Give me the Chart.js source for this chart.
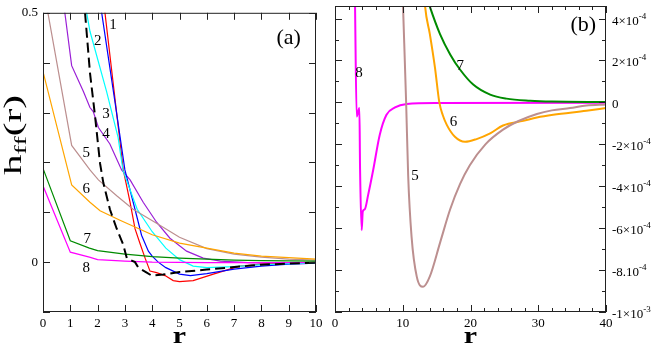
<!DOCTYPE html>
<html>
<head>
<meta charset="utf-8">
<script src="https://cdn.jsdelivr.net/npm/chart.js@4.4.0/dist/chart.umd.min.js"></script>
<style>
html, body { margin: 0; padding: 0; background: #fff; }
#wrap { position: relative; width: 654px; height: 345px; }
#chartA { position: absolute; left: 0; top: 0; width: 330px; height: 345px; }
#chartB { position: absolute; left: 320px; top: 0; width: 334px; height: 345px; }
</style>
</head>
<body>
<div id="wrap">
  <canvas id="chartA" width="330" height="345"></canvas>
  <canvas id="chartB" width="334" height="345"></canvas>
</div>
<script>
// Panel (a): h_ff(r) for curves 1..8, plus the dashed black reference
const rA1 = [2.2, 2.27, 2.6, 2.94, 3.19, 3.37, 3.55, 3.74, 3.92, 4.16, 4.47, 4.77, 5.0, 5.5, 6.24, 7.2, 8, 9, 10];
const hA1 = [0.53, 0.5, 0.345, 0.185, 0.12, 0.067, 0.038, 0.008, -0.018, -0.021, -0.027, -0.037, -0.039, -0.037, -0.024, -0.008, -0.004, -0.002, -0.001];
const rA2 = [2.05, 2.15, 2.64, 3.0, 3.43, 3.61, 3.86, 4.0, 4.22, 4.5, 5.0, 5.4, 6.0, 7.0, 8.0, 9.0, 10];
const hA2 = [0.54, 0.5, 0.32, 0.185, 0.093, 0.054, 0.022, 0.012, 0.0, -0.011, -0.024, -0.027, -0.023, -0.014, -0.008, -0.004, -0.002];
const rA3 = [1.5, 1.6, 1.72, 2.33, 2.75, 2.93, 3.45, 4.0, 4.5, 5.0, 5.5, 6.0, 7.0, 8.0, 9.0, 10];
const hA3 = [0.53, 0.5, 0.463, 0.342, 0.25, 0.184, 0.106, 0.061, 0.028, 0.005, -0.008, -0.011, -0.009, -0.005, -0.003, -0.002];
const rA4 = [0.6, 0.8, 1.05, 1.48, 1.72, 1.84, 2.03, 2.45, 2.88, 3.19, 3.67, 4.16, 4.65, 5.26, 5.87, 6.5, 7.5, 8.5, 10];
const hA4 = [0.63, 0.5, 0.394, 0.342, 0.31, 0.302, 0.27, 0.237, 0.185, 0.165, 0.12, 0.08, 0.048, 0.022, 0.008, 0.002, -0.001, -0.002, -0.002];
const rA5 = [0, 0.18, 1.05, 1.72, 2.03, 2.7, 3.3, 4.16, 5.0, 6.0, 7.0, 8.0, 9.0, 10];
const hA5 = [0.56, 0.5, 0.234, 0.185, 0.165, 0.133, 0.106, 0.078, 0.05, 0.027, 0.016, 0.01, 0.006, 0.004];
const rA6 = [0, 1.05, 1.72, 2.09, 2.82, 4.0, 5.0, 6.0, 7.0, 8.0, 9.0, 10];
const hA6 = [0.382, 0.155, 0.12, 0.103, 0.084, 0.055, 0.038, 0.028, 0.018, 0.012, 0.009, 0.006];
const rA7 = [0, 1.0, 1.7, 2.0, 3.0, 4.0, 5.0, 6.0, 7.0, 8.0, 10];
const hA7 = [0.188, 0.043, 0.028, 0.023, 0.016, 0.011, 0.008, 0.006, 0.004, 0.003, 0.002];
const rA8 = [0, 1.0, 1.7, 2.0, 3.0, 4.0, 6.0, 10];
const hA8 = [0.153, 0.02, 0.01, 0.005, 0.002, 0.0, -0.001, -0.001];
const rA0 = [1.5, 1.54, 1.72, 1.9, 2.09, 2.21, 2.45, 2.7, 2.94, 3.07, 3.37, 3.49, 3.8, 3.98, 4.4, 5, 6, 7, 8, 9, 10];
const hA0 = [0.53, 0.5, 0.38, 0.296, 0.198, 0.159, 0.106, 0.067, 0.035, 0.008, 0.0, -0.011, -0.021, -0.027, -0.025, -0.02, -0.015, -0.01, -0.005, -0.003, -0.001];

// Panel (b): long-range tails of curves 5..8
const rB5 = [10.0, 10.08, 10.5, 10.8, 11.3, 12.06, 13.0, 14.0, 15.5, 17.0, 18.45, 19.9, 22.2, 24.8, 27.0, 29.8, 32.0, 34.7, 37.1, 40];
const hB5 = [5.0e-4, 4.2e-4, 0, -3.5e-4, -6.4e-4, -8.3e-4, -8.8e-4, -8.3e-4, -6.7e-4, -5.1e-4, -3.9e-4, -3.0e-4, -2.0e-4, -1.3e-4, -0.9e-4, -0.55e-4, -0.38e-4, -0.27e-4, -0.15e-4, -0.1e-4];
const rB6 = [13.0, 13.3, 14.0, 14.76, 15.4, 15.9, 16.5, 17.7, 19.2, 20.9, 22.9, 24.8, 27.8, 29.8, 32.2, 37.1, 40];
const hB6 = [6.0e-4, 4.57e-4, 3.26e-4, 1.65e-4, 0, -0.6e-4, -1.07e-4, -1.64e-4, -1.88e-4, -1.75e-4, -1.48e-4, -1.1e-4, -0.88e-4, -0.72e-4, -0.59e-4, -0.4e-4, -0.27e-4];
const rB7 = [13.5, 14.0, 15.5, 17.0, 18.45, 20.4, 22.9, 25.3, 28.8, 32, 40];
const hB7 = [5.1e-4, 4.57e-4, 3.26e-4, 2.29e-4, 1.57e-4, 0.85e-4, 0.37e-4, 0.18e-4, 0.08e-4, 0.04e-4, 0.02e-4];
const rB8 = [2.95, 3.2, 3.6, 3.7, 3.94, 4.1, 4.4, 4.9, 5.65, 6.6, 7.6, 8.86, 10.6, 15, 40];
const hB8 = [4.8e-4, -0.67e-4, -0.27e-4, -3.2e-4, -6.1e-4, -5.2e-4, -5.1e-4, -4.4e-4, -3.2e-4, -1.55e-4, -0.59e-4, -0.24e-4, -0.08e-4, -0.03e-4, -0.02e-4];

// ticks
const xTicksA = [0, 1, 2, 3, 4, 5, 6, 7, 8, 9, 10];
const xTickLabelsA = ['0', '1', '2', '3', '4', '5', '6', '7', '8', '9', '10'];
const yTicksA = [-0.1, 0, 0.1, 0.2, 0.3, 0.4, 0.5];
const yTickLabelsA = ['', '0', '', '', '', '', '0.5'];
const xTicksB = [0, 10, 20, 30, 40];
const xTickLabelsB = ['0', '10', '20', '30', '40'];
const xMinorB = [2, 4, 6, 8, 12, 14, 16, 18, 22, 24, 26, 28, 32, 34, 36, 38];
const yTicksB = [-10e-4, -8e-4, -6e-4, -4e-4, -2e-4, 0, 2e-4, 4e-4];
// mantissa part and superscript exponent of each right-hand tick label
const yTickBaseB = ['-1×10', '-8.10', '-6×10', '-4×10', '-2×10', '0', '2×10', '4×10'];
const yTickExpB = ['-3', '-4', '-4', '-4', '-4', '', '-4', '-4'];
const yMinorB = [-9e-4, -7e-4, -5e-4, -3e-4, -1e-4, 1e-4, 3e-4];

const serif = "'Liberation Serif', 'Times New Roman', serif";
const pts = (xs, ys) => xs.map((x, i) => ({ x: x, y: ys[i] }));

function line(xs, ys, color, width, extra) {
    return Object.assign({
        data: pts(xs, ys),
        borderColor: color,
        borderWidth: width,
        pointRadius: 0,
        fill: false,
        tension: 0
    }, extra || {});
}

// frame, inward ticks, curve labels and axis titles
function framePlugin(cfg) {
    return {
        id: 'frame' + cfg.name,
        afterDatasetsDraw(chart) {
            const ctx = chart.ctx;
            const { left, right, top, bottom } = chart.chartArea;
            const sx = chart.scales.x, sy = chart.scales.y;
            ctx.save();
            ctx.strokeStyle = '#222';
            ctx.lineWidth = 1;
            ctx.beginPath();
            const xt = (vals, len) => vals.forEach(v => {
                const p = Math.round(sx.getPixelForValue(v)) + 0.5;
                ctx.moveTo(p, bottom); ctx.lineTo(p, bottom - len);
                ctx.moveTo(p, top); ctx.lineTo(p, top + len);
            });
            const yt = (vals, len) => vals.forEach(v => {
                const p = Math.round(sy.getPixelForValue(v)) + 0.5;
                ctx.moveTo(left, p); ctx.lineTo(left + len, p);
                ctx.moveTo(right, p); ctx.lineTo(right - len, p);
            });
            xt(cfg.xMajor, 7); xt(cfg.xMinor, 4);
            yt(cfg.yMajor, 7); yt(cfg.yMinor, 4);
            ctx.stroke();
            ctx.strokeRect(left + 0.5, top + 0.5, right - left - 1, bottom - top - 1);

            ctx.fillStyle = '#000';
            ctx.textAlign = 'center';
            ctx.textBaseline = 'middle';
            cfg.labels.forEach(l => {
                ctx.font = l.size + 'px ' + serif;
                ctx.fillText(l.text, sx.getPixelForValue(l.x), sy.getPixelForValue(l.y));
            });

            // right-hand tick labels with raised exponents
            if (cfg.expLabels) {
                ctx.textAlign = 'left';
                ctx.textBaseline = 'alphabetic';
                cfg.yMajor.forEach((v, i) => {
                    const y = sy.getPixelForValue(v) + 6;
                    let x = right + 6;
                    ctx.font = '13px ' + serif;
                    ctx.fillText(yTickBaseB[i], x, y);
                    x += ctx.measureText(yTickBaseB[i]).width;
                    ctx.font = '9px ' + serif;
                    ctx.fillText(yTickExpB[i], x, y - 6);
                });
            }

            // x title
            ctx.save();
            ctx.translate((left + right) / 2, 343);
            ctx.scale(1.3, 1);
            ctx.textAlign = 'center';
            ctx.font = 'bold 23px ' + serif;
            ctx.textBaseline = 'alphabetic';
            ctx.fillText('r', 0, 0);
            ctx.restore();

            if (cfg.yTitle) {
                ctx.save();
                ctx.translate(21, 175);
                ctx.rotate(-Math.PI / 2);
                const big = '25px ' + serif, small = '17px ' + serif;
                ctx.font = big; const wh = ctx.measureText('h').width, wr = ctx.measureText('(r)').width;
                ctx.font = small; const wf = ctx.measureText('ff').width;
                ctx.scale(80 / (wh + wf + wr), 1);
                ctx.textAlign = 'left';
                ctx.textBaseline = 'alphabetic';
                ctx.font = big; ctx.fillText('h', 0, 0);
                ctx.font = small; ctx.fillText('ff', wh, 5);
                ctx.font = big; ctx.fillText('(r)', wh + wf, 0);
                ctx.restore();
            }
            ctx.restore();
        }
    };
}

function axis(min, max, ticks, labels, pad, extra) {
    return Object.assign({
        type: 'linear',
        min: min,
        max: max,
        grid: { display: false, drawTicks: false },
        border: { display: false },
        afterBuildTicks: s => { s.ticks = ticks.map(v => ({ value: v })); },
        ticks: {
            callback: (v, i) => labels[i],
            font: { family: serif, size: 13 },
            color: '#000',
            maxRotation: 0,
            autoSkip: false,
            padding: pad
        }
    }, extra);
}

// Panel (a)
new Chart(document.getElementById('chartA'), {
    type: 'line',
    data: {
        datasets: [
            line(rA0, hA0, '#000000', 2, { borderDash: [10, 5] }),
            line(rA8, hA8, '#ff00ff', 1.2),
            line(rA7, hA7, '#008b00', 1.2),
            line(rA6, hA6, '#ffa500', 1.2),
            line(rA5, hA5, '#bc8f8f', 1.2),
            line(rA3, hA3, '#00ffff', 1.2),
            line(rA2, hA2, '#0000ff', 1.2),
            line(rA1, hA1, '#ff0000', 1.2),
            line(rA4, hA4, '#9a1fd6', 1.2)
        ]
    },
    options: {
        responsive: false,
        animation: false,
        layout: { padding: { top: 6, right: 14, left: 0, bottom: 0 } },
        plugins: { legend: { display: false }, tooltip: { enabled: false } },
        scales: {
            x: axis(0, 10, xTicksA, xTickLabelsA, 4, { afterFit: s => { s.height = 33; } }),
            y: axis(-0.1, 0.5, yTicksA, yTickLabelsA, 5, { afterFit: s => { s.width = 43; } })
        }
    },
    plugins: [framePlugin({
        name: 'A',
        xMajor: xTicksA, xMinor: [],
        yMajor: yTicksA, yMinor: [],
        yTitle: true,
        labels: [
            { text: '1', x: 2.56, y: 0.475, size: 15 },
            { text: '2', x: 2.01, y: 0.443, size: 15 },
            { text: '3', x: 2.31, y: 0.296, size: 15 },
            { text: '4', x: 2.31, y: 0.257, size: 15 },
            { text: '5', x: 1.58, y: 0.218, size: 15 },
            { text: '6', x: 1.58, y: 0.147, size: 15 },
            { text: '7', x: 1.62, y: 0.046, size: 15 },
            { text: '8', x: 1.58, y: -0.011, size: 15 },
            { text: '(a)', x: 9.0, y: 0.449, size: 22 }
        ]
    })]
});

// Panel (b)
const monotone = { cubicInterpolationMode: 'monotone' };
new Chart(document.getElementById('chartB'), {
    type: 'line',
    data: {
        datasets: [
            line(rB5, hB5, '#bc8f8f', 2, monotone),
            line(rB6, hB6, '#ffa500', 2, monotone),
            line(rB7, hB7, '#008b00', 2, monotone),
            line(rB8, hB8, '#ff00ff', 2, monotone)
        ]
    },
    options: {
        responsive: false,
        animation: false,
        layout: { padding: { top: 6, right: 0, left: 15, bottom: 0 } },
        plugins: { legend: { display: false }, tooltip: { enabled: false } },
        scales: {
            x: axis(0, 40, xTicksB, xTickLabelsB, 4, { afterFit: s => { s.height = 33; } }),
            y: axis(-10e-4, 4.6e-4, yTicksB, yTickBaseB, 6, {
                position: 'right',
                ticks: { display: false },
                afterFit: s => { s.width = 48; }
            })
        }
    },
    plugins: [framePlugin({
        name: 'B',
        xMajor: xTicksB, xMinor: xMinorB,
        yMajor: yTicksB, yMinor: yMinorB,
        yTitle: false,
        expLabels: true,
        labels: [
            { text: '8', x: 3.54, y: 1.41e-4, size: 15 },
            { text: '5', x: 11.8, y: -3.51e-4, size: 15 },
            { text: '6', x: 17.5, y: -0.95e-4, size: 15 },
            { text: '7', x: 18.5, y: 1.73e-4, size: 15 },
            { text: '(b)', x: 36.65, y: 3.66e-4, size: 22 }
        ]
    })]
});
</script>
</body>
</html>
